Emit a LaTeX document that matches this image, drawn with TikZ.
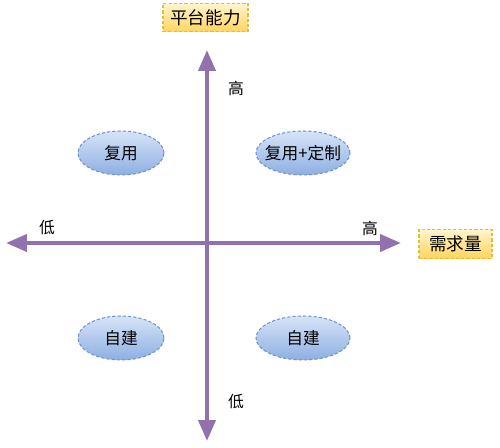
\documentclass[tikz,border=0pt]{standalone}
\usepackage{fontspec}
\setmainfont{Noto Sans CJK SC}
\usetikzlibrary{arrows.meta,shapes.geometric,positioning}
\definecolor{axispurple}{HTML}{9272AC}
\definecolor{ellline}{HTML}{6F92D0}
\definecolor{elltop}{HTML}{D6E4F8}
\definecolor{ellbot}{HTML}{8EAFE2}
\definecolor{boxline}{HTML}{E2BC3C}
\definecolor{boxtop}{HTML}{FFF4CC}
\definecolor{boxbot}{HTML}{FFD55E}
\tikzset{
  axisarrow/.style={line width=2.3pt,axispurple,
    {Triangle[length=0.42cm,width=0.34cm]}-{Triangle[length=0.42cm,width=0.34cm]}},
  quad/.style={ellipse,draw=ellline,line width=0.6pt,dash pattern=on 1.8pt off 1.2pt,
    top color=elltop,bottom color=ellbot,inner xsep=-3pt,inner ysep=0pt,
    minimum height=0.88cm,font=\fontsize{9.5}{11}\selectfont},
  axisname/.style={rectangle,draw=boxline,line width=0.6pt,dash pattern=on 1.8pt off 1.2pt,
    top color=boxtop,bottom color=boxbot,inner sep=0pt,
    minimum height=0.57cm,font=\fontsize{10}{12}\selectfont},
  ticktext/.style={font=\fontsize{9}{11}\selectfont}
}
\newcommand \mydrawaxes[4]
{
\coordinate (hl) at (#1,243);
\coordinate (hr) at (#2,243);
\coordinate (vt) at (207,#3);
\coordinate (vb) at (207,#4);
\draw[axisarrow] (hl)--(hr);
\draw[axisarrow] (vb)--(vt);
}
\begin{document}
\begin{tikzpicture}[x=0.02cm,y=-0.02cm]
\useasboundingbox (0,0) rectangle (500,448);
\mydrawaxes{6}{401}{50}{441}
% axis names
\node[axisname,minimum width=1.7cm]  (ability) at (205.5,17.5) {平台能力};
\node[axisname,minimum width=1.46cm] (demand)  at (455.5,244)  {需求量};
% tick words
\node[ticktext] (vhigh) at (236,88)  {高};
\node[ticktext] (vlow)  at (236,402) {低};
\node[ticktext] (hlow)  at (47,228)  {低};
\node[ticktext] (hhigh) at (370,228) {高};
% quadrants
\node[quad,minimum width=1.72cm] (reuse)  at (121,153) {复用};
\node[quad,minimum width=1.88cm] (custom) at (303,153) {复用+定制};
\node[quad,minimum width=1.72cm] (buildl) at (121,338) {自建};
\node[quad,minimum width=1.88cm] (buildr) at (303,338) {自建};
\end{tikzpicture}
\end{document}
